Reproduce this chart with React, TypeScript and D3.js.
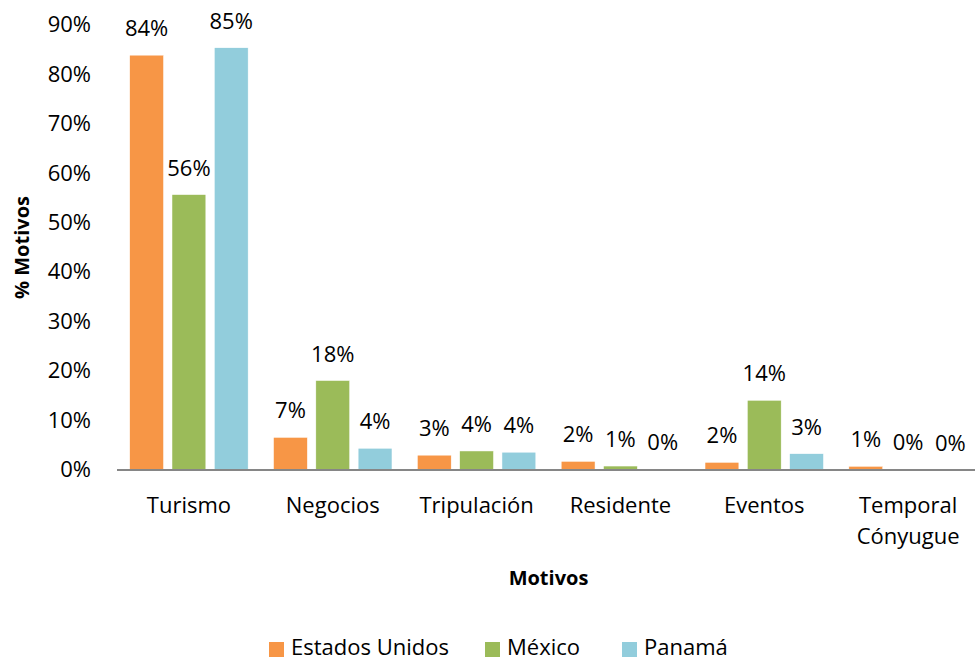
import * as d3 from "d3";

const categories = ["Turismo", "Negocios", "Tripulación", "Residente", "Eventos", "Temporal Cónyugue"];
const series = ["Estados Unidos", "México", "Panamá"];
const estadosUnidos = [83.9, 6.6, 3.0, 1.75, 1.55, 0.75];
const mexico = [55.7, 18.1, 3.85, 0.8, 14.1, 0.2];
const panama = [85.4, 4.4, 3.6, 0.15, 3.3, 0.05];
const yTicks = [0, 10, 20, 30, 40, 50, 60, 70, 80, 90];
const colors = ["#F79646", "#9BBB59", "#92CDDC"];

const values = [estadosUnidos, mexico, panama];

export default function App() {
  const width = 975;
  const height = 660;
  const marginLeft = 117;
  const marginRight = -5;
  const marginTop = 25;
  const baseline = 470;
  const font = "'Open Sans', sans-serif";

  const x0 = d3.scaleBand(categories, [marginLeft, width - marginRight]).padding(0);
  const x1 = d3
    .scaleBand(series, [0, x0.bandwidth()])
    .paddingInner(0.2)
    .paddingOuter(0.3);
  const y = d3.scaleLinear([0, 90], [baseline, marginTop]);
  const color = d3.scaleOrdinal(series, colors);
  const fmt = (v: number) => `${Math.round(v)}%`;

  // legend layout
  const legendX = [269, 485, 622];

  return (
    <svg
      width={width}
      height={height}
      style={{ position: "absolute", left: 0, top: 0, background: "#fff" }}
      fontFamily={font}
    >
      {/* y tick labels */}
      {yTicks.map((t) => (
        <text key={t} x={91} y={y(t)} dy="0.33em" textAnchor="end" fontSize={22} fill="#000">
          {t}%
        </text>
      ))}

      {/* bars */}
      {categories.map((c, ci) => (
        <g key={c} transform={`translate(${x0(c)},0)`}>
          {series.map((s, si) => {
            const v = values[si][ci];
            return (
              <g key={s}>
                <rect
                  x={x1(s)}
                  y={y(v)}
                  width={x1.bandwidth()}
                  height={baseline - y(v)}
                  fill={color(s)}
                  stroke="#fff"
                  strokeWidth={0.5}
                />
                <text
                  x={x1(s)! + x1.bandwidth() / 2}
                  y={y(v) - 19}
                  textAnchor="middle"
                  fontSize={22}
                  fill="#000"
                >
                  {fmt(v)}
                </text>
              </g>
            );
          })}
        </g>
      ))}

      {/* x axis line */}
      <line x1={marginLeft} x2={width} y1={baseline} y2={baseline} stroke="#868686" strokeWidth={2} />

      {/* category labels */}
      {categories.map((c) => {
        const cx = x0(c)! + x0.bandwidth() / 2;
        const lines = c === "Temporal Cónyugue" ? ["Temporal", "Cónyugue"] : [c];
        return (
          <text key={c} x={cx} y={513} textAnchor="middle" fontSize={22} fill="#000">
            {lines.map((l, i) => (
              <tspan key={l} x={cx} dy={i === 0 ? 0 : 31}>
                {l}
              </tspan>
            ))}
          </text>
        );
      })}

      {/* axis titles */}
      <text
        x={(marginLeft + width - marginRight) / 2}
        y={585}
        textAnchor="middle"
        fontSize={20}
        fontWeight="bold"
        fill="#000"
      >
        Motivos
      </text>
      <text
        transform={`translate(29,${(marginTop + baseline) / 2}) rotate(-90)`}
        textAnchor="middle"
        fontSize={20}
        fontWeight="bold"
        fill="#000"
      >
        % Motivos
      </text>

      {/* legend */}
      {series.map((s, i) => (
        <g key={s} transform={`translate(${legendX[i]},642)`}>
          <rect width={15} height={15} fill={color(s)} />
          <text x={22} y={13} fontSize={22} fill="#000">
            {s}
          </text>
        </g>
      ))}
    </svg>
  );
}
